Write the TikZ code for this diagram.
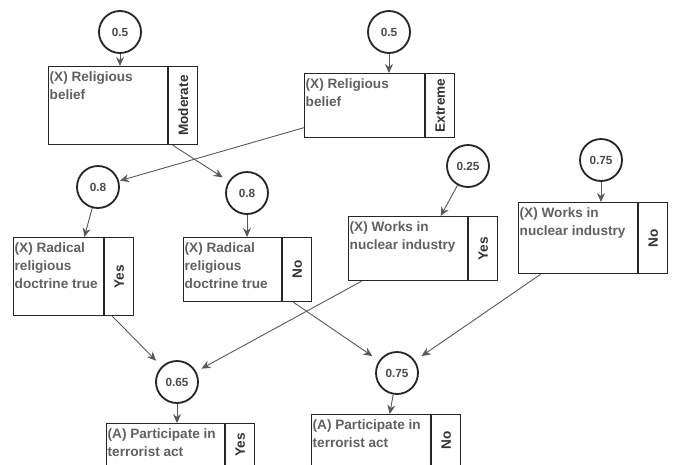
\documentclass[tikz,border=0pt]{standalone}
\usepackage{fontspec}
\setmainfont{Liberation Sans}
\usepackage{graphicx}
\usetikzlibrary{positioning,arrows.meta}

\begin{document}
\begin{tikzpicture}[
    x=1pt, y=-1pt,
    part/.style={draw=black!85, line width=1.2pt, rectangle, inner sep=0pt, anchor=north west},
    txt/.style={anchor=north west, align=left, inner xsep=1.5pt, inner ysep=5pt, font=\fontsize{13.6}{18}\selectfont\bfseries, text=black!62},
    state/.style={part, minimum width=29pt, font=\fontsize{13.6}{16}\selectfont\bfseries, text=black!80},
    prob/.style={circle, draw=black!85, line width=1.8pt, minimum size=42pt, inner sep=0pt, font=\fontsize{11.8}{14}\selectfont\bfseries, text=black!70},
    arrow/.style={-{Stealth[length=9pt, width=8pt, inset=3pt]}, draw=black!65, line width=0.9pt}
]
\useasboundingbox[fill=white] (0,0) rectangle (675,464);
\clip (0,0) rectangle (675,464);

% Top row - religious belief
\node[prob] (p1) at (120,32) {0.5};
\node[prob] (p2) at (389,32) {0.5};
\node[part, minimum width=119pt, minimum height=78pt,
      label={[txt]north west:{(X) Religious\\belief}}] (b1) at (48,66) {};
\node[state, minimum height=78pt, right=0pt of b1] (s1) {\rotatebox{90}{Moderate}};
\node[part, minimum width=120pt, minimum height=64pt,
      label={[txt]north west:{(X) Religious\\belief}}] (b2) at (304,73) {};
\node[state, minimum height=64pt, right=0pt of b2] (s2) {\rotatebox{90}{Extreme}};

% Middle row - doctrine and nuclear industry
\node[prob] (p3) at (98,187) {0.8};
\node[prob] (p4) at (247,193) {0.8};
\node[prob] (p5) at (468,166) {0.25};
\node[prob] (p6) at (601,160) {0.75};
\node[part, minimum width=90pt, minimum height=78pt,
      label={[txt]north west:{(X) Radical\\religious\\doctrine true}}] (b3) at (13,237) {};
\node[state, minimum height=78pt, right=0pt of b3] (s3) {\rotatebox{90}{Yes}};
\node[part, minimum width=98pt, minimum height=64pt,
      label={[txt]north west:{(X) Radical\\religious\\doctrine true}}] (b4) at (183,237) {};
\node[state, minimum height=64pt, right=0pt of b4] (s4) {\rotatebox{90}{No}};
\node[part, minimum width=119pt, minimum height=64pt,
      label={[txt]north west:{(X) Works in\\nuclear industry}}] (b5) at (348,216) {};
\node[state, minimum height=64pt, right=0pt of b5] (s5) {\rotatebox{90}{Yes}};
\node[part, minimum width=119pt, minimum height=71pt,
      label={[txt]north west:{(X) Works in\\nuclear industry}}] (b6) at (518,202) {};
\node[state, minimum height=71pt, right=0pt of b6] (s6) {\rotatebox{90}{No}};

% Bottom row - participation
\node[prob] (p7) at (177,382) {0.65};
\node[prob] (p8) at (397,373) {0.75};
\node[part, minimum width=118pt, minimum height=43pt,
      label={[txt]north west:{(A) Participate in\\terrorist act}}] (b7) at (106,423) {};
\node[state, minimum height=43pt, right=0pt of b7] (s7) {\rotatebox{90}{Yes}};
\node[part, minimum width=119pt, minimum height=52pt,
      label={[txt]north west:{(A) Participate in\\terrorist act}}] (b8) at (311,414) {};
\node[state, minimum height=52pt, right=0pt of b8] (s8) {\rotatebox{90}{No}};

% Arrows
\draw[arrow] (p1) -- (p1 |- b1.north);
\draw[arrow] (p2) -- (p2 |- b2.north);
\draw[arrow, shorten >=1pt] (b2.200) -- (p3);
\draw[arrow, shorten >=7pt] (s1.255) -- (p4);
\draw[arrow] (p3) -- (b3.57);
\draw[arrow] (p4) -- (p4 |- b4.north);
\draw[arrow] (p5) -- (b5.45);
\draw[arrow] (p6) -- (p6 |- b6.north);
\draw[arrow, shorten >=8pt] (s3.260) -- (p7);
\draw[arrow, shorten >=6pt] (b5.215) -- (p7);
\draw[arrow, shorten >=8pt] (s4.263) -- (p8);
\draw[arrow, shorten >=8pt] (b6.224) -- (p8);
\draw[arrow] (p7) -- (p7 |- b7.north);
\draw[arrow] (p8) -- (b8.55);

\end{tikzpicture}
\end{document}
